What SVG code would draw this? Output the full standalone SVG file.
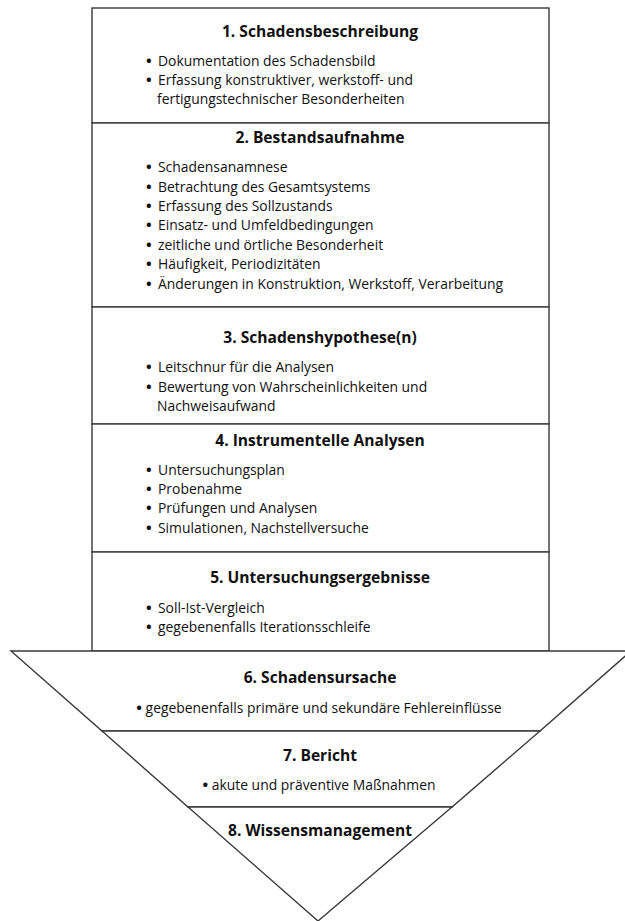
<svg xmlns="http://www.w3.org/2000/svg" width="625" height="921" viewBox="0 0 625 921">
<style>
.box{fill:#ffffff;stroke:#3a3a3a;stroke-width:1.4}
.t{font-family:"Open Sans","Liberation Sans",sans-serif;font-weight:bold;font-size:15.6px;fill:#111;text-anchor:middle}
.b{font-family:"Open Sans","Liberation Sans",sans-serif;font-size:13.9px;fill:#111}
.d{font-family:"Open Sans","Liberation Sans",sans-serif;font-size:15px;font-weight:bold;fill:#111}
.c{text-anchor:middle}
.bd{font-weight:bold;font-size:15px}
</style>
<rect width="625" height="921" fill="#ffffff"/>
<g id="node1">
<rect class="box" x="92" y="8" width="457" height="115"/>
<text class="t" x="320" y="37">1. Schadensbeschreibung</text>
<text class="d" x="146" y="66">•</text><text class="b" x="158" y="66">Dokumentation des Schadensbild</text>
<text class="d" x="146" y="85">•</text><text class="b" x="158" y="85">Erfassung konstruktiver, werkstoff- und</text>
<text class="b" x="157" y="104">fertigungstechnischer Besonderheiten</text>
</g>
<g id="node2">
<rect class="box" x="92" y="123" width="457" height="184"/>
<text class="t" x="320" y="143">2. Bestandsaufnahme</text>
<text class="d" x="146" y="172">•</text><text class="b" x="158" y="172">Schadensanamnese</text>
<text class="d" x="146" y="192">•</text><text class="b" x="158" y="192">Betrachtung des Gesamtsystems</text>
<text class="d" x="146" y="211">•</text><text class="b" x="158" y="211">Erfassung des Sollzustands</text>
<text class="d" x="146" y="230">•</text><text class="b" x="158" y="230">Einsatz- und Umfeldbedingungen</text>
<text class="d" x="146" y="250">•</text><text class="b" x="158" y="250">zeitliche und örtliche Besonderheit</text>
<text class="d" x="146" y="269">•</text><text class="b" x="158" y="269">Häufigkeit, Periodizitäten</text>
<text class="d" x="146" y="289">•</text><text class="b" x="158" y="289">Änderungen in Konstruktion, Werkstoff, Verarbeitung</text>
</g>
<g id="node3">
<rect class="box" x="92" y="307" width="457" height="117"/>
<text class="t" x="320" y="343">3. Schadenshypothese(n)</text>
<text class="d" x="146" y="372">•</text><text class="b" x="158" y="372">Leitschnur für die Analysen</text>
<text class="d" x="146" y="392">•</text><text class="b" x="158" y="392">Bewertung von Wahrscheinlichkeiten und</text>
<text class="b" x="157" y="411">Nachweisaufwand</text>
</g>
<g id="node4">
<rect class="box" x="92" y="424" width="457" height="128"/>
<text class="t" x="320" y="446">4. Instrumentelle Analysen</text>
<text class="d" x="146" y="475">•</text><text class="b" x="158" y="475">Untersuchungsplan</text>
<text class="d" x="146" y="494">•</text><text class="b" x="158" y="494">Probenahme</text>
<text class="d" x="146" y="513">•</text><text class="b" x="158" y="513">Prüfungen und Analysen</text>
<text class="d" x="146" y="533">•</text><text class="b" x="158" y="533">Simulationen, Nachstellversuche</text>
</g>
<g id="node5">
<rect class="box" x="92" y="552" width="457" height="99"/>
<text class="t" x="320" y="583">5. Untersuchungsergebnisse</text>
<text class="d" x="146" y="613">•</text><text class="b" x="158" y="613">Soll-Ist-Vergleich</text>
<text class="d" x="146" y="632">•</text><text class="b" x="158" y="632">gegebenenfalls Iterationsschleife</text>
</g>
<g id="node6">
<polygon class="box" points="11,651 631,651 540,731 102,731"/>
<text class="t" x="320" y="683">6. Schadensursache</text>
<text class="b c" x="319" y="713"><tspan class="bd">•</tspan> gegebenenfalls primäre und sekundäre Fehlereinflüsse</text>
</g>
<g id="node7">
<polygon class="box" points="102,731 540,731 452,807 188,807"/>
<text class="t" x="320" y="761">7. Bericht</text>
<text class="b c" x="319" y="790"><tspan class="bd">•</tspan> akute und präventive Maßnahmen</text>
</g>
<g id="node8">
<polygon class="box" points="188,807 452,807 318,921"/>
<text class="t" x="320" y="836">8. Wissensmanagement</text>
</g>
<g id="connectors"></g>
</svg>
